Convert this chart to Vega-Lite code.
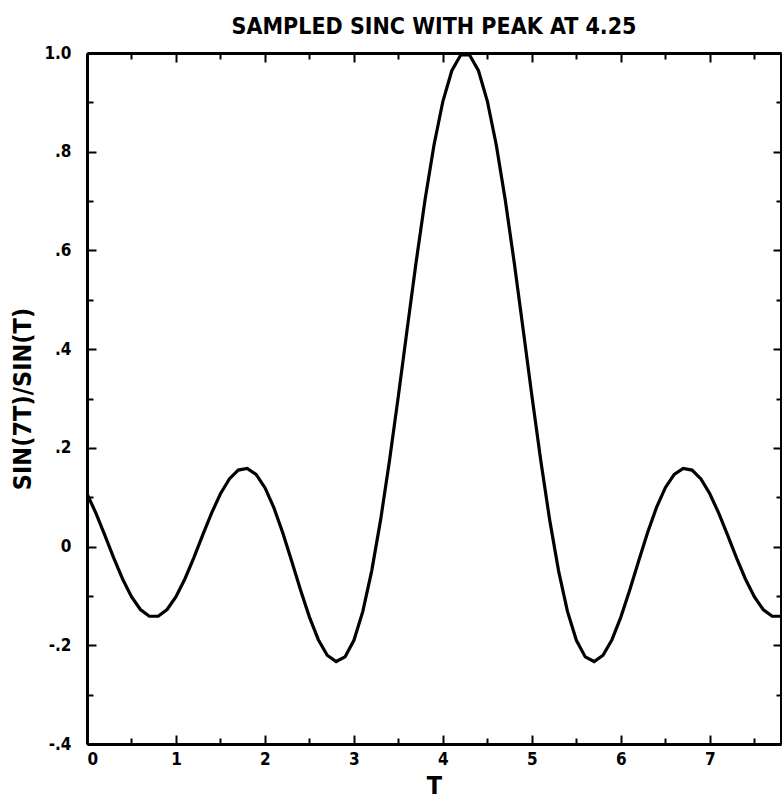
{
  "$schema": "https://vega.github.io/schema/vega-lite/v6.json",
  "width": 694,
  "height": 691,
  "autosize": "none",
  "padding": {"left": 87, "top": 53, "right": 1, "bottom": 56},
  "background": "white",
  "title": {
    "text": "SAMPLED SINC WITH PEAK AT 4.25",
    "font": "DejaVu Sans Condensed",
    "fontWeight": "bold",
    "fontSize": 23,
    "color": "black",
    "offset": 5
  },
  "data": {
    "values": [
      {"t": 0.0, "v": 0.10702}, {"t": 0.1, "v": 0.06772}, {"t": 0.2, "v": 0.02305}, {"t": 0.3, "v": -0.02281},
      {"t": 0.4, "v": -0.06566}, {"t": 0.5, "v": -0.10166}, {"t": 0.6, "v": -0.12757}, {"t": 0.7, "v": -0.14113},
      {"t": 0.8, "v": -0.14113}, {"t": 0.9, "v": -0.12757}, {"t": 1.0, "v": -0.10166}, {"t": 1.1, "v": -0.06566},
      {"t": 1.2, "v": -0.02281}, {"t": 1.3, "v": 0.02305}, {"t": 1.4, "v": 0.06772}, {"t": 1.5, "v": 0.10702},
      {"t": 1.6, "v": 0.13714}, {"t": 1.7, "v": 0.15497}, {"t": 1.8, "v": 0.15836}, {"t": 1.9, "v": 0.14635},
      {"t": 2.0, "v": 0.1193}, {"t": 2.1, "v": 0.0789}, {"t": 2.2, "v": 0.02809}, {"t": 2.3, "v": -0.02911},
      {"t": 2.4, "v": -0.08787}, {"t": 2.5, "v": -0.14286}, {"t": 2.6, "v": -0.18866}, {"t": 2.7, "v": -0.22016},
      {"t": 2.8, "v": -0.23291}, {"t": 2.9, "v": -0.22351}, {"t": 3.0, "v": -0.18987}, {"t": 3.1, "v": -0.13142},
      {"t": 3.2, "v": -0.04923}, {"t": 3.3, "v": 0.05404}, {"t": 3.4, "v": 0.17421}, {"t": 3.5, "v": 0.30585},
      {"t": 3.6, "v": 0.44258}, {"t": 3.7, "v": 0.57747}, {"t": 3.8, "v": 0.70342}, {"t": 3.9, "v": 0.81367},
      {"t": 4.0, "v": 0.9022}, {"t": 4.1, "v": 0.96412}, {"t": 4.2, "v": 0.99598}, {"t": 4.3, "v": 0.99598},
      {"t": 4.4, "v": 0.96412}, {"t": 4.5, "v": 0.9022}, {"t": 4.6, "v": 0.81367}, {"t": 4.7, "v": 0.70342},
      {"t": 4.8, "v": 0.57747}, {"t": 4.9, "v": 0.44258}, {"t": 5.0, "v": 0.30585}, {"t": 5.1, "v": 0.17421},
      {"t": 5.2, "v": 0.05404}, {"t": 5.3, "v": -0.04923}, {"t": 5.4, "v": -0.13142}, {"t": 5.5, "v": -0.18987},
      {"t": 5.6, "v": -0.22351}, {"t": 5.7, "v": -0.23291}, {"t": 5.8, "v": -0.22016}, {"t": 5.9, "v": -0.18866},
      {"t": 6.0, "v": -0.14286}, {"t": 6.1, "v": -0.08787}, {"t": 6.2, "v": -0.02911}, {"t": 6.3, "v": 0.02809},
      {"t": 6.4, "v": 0.0789}, {"t": 6.5, "v": 0.1193}, {"t": 6.6, "v": 0.14635}, {"t": 6.7, "v": 0.15836},
      {"t": 6.8, "v": 0.15497}, {"t": 6.9, "v": 0.13714}, {"t": 7.0, "v": 0.10702}, {"t": 7.1, "v": 0.06772},
      {"t": 7.2, "v": 0.02305}, {"t": 7.3, "v": -0.02281}, {"t": 7.4, "v": -0.06566}, {"t": 7.5, "v": -0.10166},
      {"t": 7.6, "v": -0.12757}, {"t": 7.7, "v": -0.14113}, {"t": 7.8, "v": -0.14113}
    ]
  },
  "config": {
    "view": {"stroke": null},
    "axis": {
      "grid": false,
      "domainColor": "black",
      "domainWidth": 3,
      "tickColor": "black",
      "tickWidth": 2,
      "labelFont": "DejaVu Sans Condensed",
      "labelFontWeight": "bold",
      "labelFontSize": 17,
      "labelColor": "black",
      "titleFont": "DejaVu Sans Condensed",
      "titleFontWeight": "bold",
      "titleFontSize": 25,
      "titleColor": "black"
    }
  },
  "resolve": {"axis": {"x": "independent", "y": "independent"}},
  "layer": [
    {
      "mark": {"type": "line", "color": "black", "strokeWidth": 3.2, "clip": true},
      "encoding": {
        "x": {
          "field": "t", "type": "quantitative",
          "scale": {"domain": [0, 7.8], "nice": false, "zero": false},
          "axis": {
            "orient": "bottom",
            "title": "T",
            "values": [0, 0.5, 1, 1.5, 2, 2.5, 3, 3.5, 4, 4.5, 5, 5.5, 6, 6.5, 7, 7.5],
            "labelExpr": "datum.value % 1 === 0 ? format(datum.value, 'd') : ''",
            "tickSize": {"condition": {"test": "datum.value % 1 !== 0", "value": -6}, "value": -9},
            "labelPadding": 16,
            "titlePadding": 6
          }
        },
        "y": {
          "field": "v", "type": "quantitative",
          "scale": {"domain": [-0.4, 1.0], "nice": false, "zero": false},
          "axis": {
            "orient": "left",
            "title": "SIN(7T)/SIN(T)",
            "values": [-0.4, -0.3, -0.2, -0.1, 0, 0.1, 0.2, 0.3, 0.4, 0.5, 0.6, 0.7, 0.8, 0.9, 1.0],
            "labelExpr": "round(datum.value * 10) % 2 !== 0 ? '' : (datum.value > 0.99 ? '1.0' : (abs(datum.value) < 0.01 ? '0' : (datum.value < 0 ? '-' : '') + '.' + round(abs(datum.value) * 10)))",
            "tickSize": {"condition": {"test": "round(datum.value * 10) % 2 !== 0", "value": -6}, "value": -9},
            "labelPadding": 25,
            "titlePadding": 8
          }
        }
      }
    },
    {
      "mark": {"type": "line", "color": "black", "strokeOpacity": 0},
      "encoding": {
        "x": {
          "field": "t", "type": "quantitative",
          "axis": {
            "orient": "top",
            "title": null,
            "labels": false,
            "values": [0, 0.5, 1, 1.5, 2, 2.5, 3, 3.5, 4, 4.5, 5, 5.5, 6, 6.5, 7, 7.5],
            "tickSize": {"condition": {"test": "datum.value % 1 !== 0", "value": -6}, "value": -9}
          }
        },
        "y": {
          "field": "v", "type": "quantitative",
          "axis": {
            "orient": "right",
            "title": null,
            "labels": false,
            "values": [-0.4, -0.3, -0.2, -0.1, 0, 0.1, 0.2, 0.3, 0.4, 0.5, 0.6, 0.7, 0.8, 0.9, 1.0],
            "tickSize": {"condition": {"test": "round(datum.value * 10) % 2 !== 0", "value": -5}, "value": -8}
          }
        }
      }
    }
  ]
}
